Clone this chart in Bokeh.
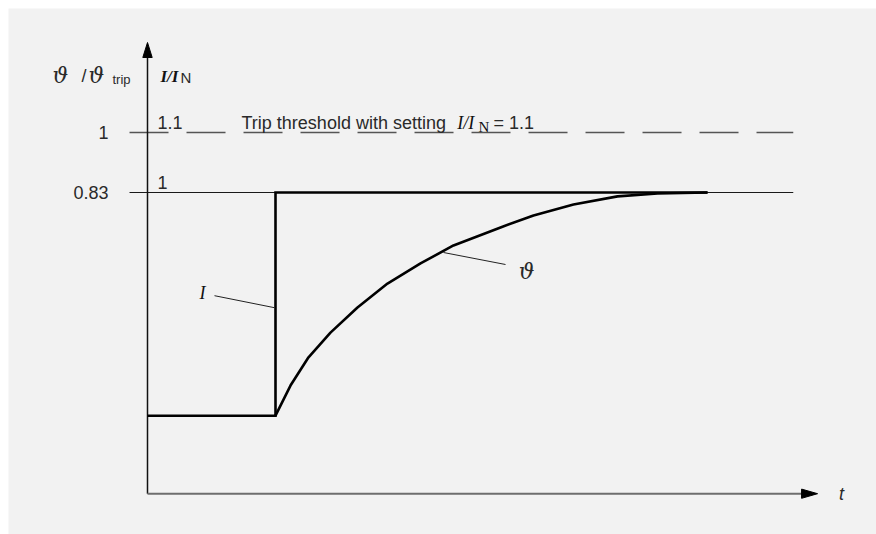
from bokeh.plotting import figure
from bokeh.models import Range1d
from bokeh.embed import file_html
from bokeh.resources import INLINE
from bokeh.core.properties import value

# ---------------- data ----------------
time_I = [0.0, 2.0, 2.0, 8.75]
current_I = [0.628, 0.628, 1.0, 1.0]            # I / I_N

time_theta = [2.0, 2.234, 2.516, 2.859, 3.281, 3.75, 4.266, 4.781,
              5.516, 6.031, 6.656, 7.344, 7.969, 8.75]
theta = [0.198, 0.283, 0.363, 0.433, 0.504, 0.572, 0.629, 0.680,
         0.731, 0.765, 0.796, 0.819, 0.827, 0.83]  # theta / theta_trip

theta_ticks = [0.83, 1.0]
theta_tick_labels = ["0.83", "1"]
current_ticks = [1.0, 1.1]
current_tick_labels = ["1", "1.1"]
trip_setting = 1.1
threshold_theta = 1.0

# ---------------- layout constants ----------------
M = 8                      # white margin round the grey panel
W, H = 868, 526            # grey panel (plot frame)
PX_T = 64.0                # px per time unit
PX_I = 600.0               # px per I/I_N unit
ORIGIN_X = 139             # px from panel left to t = 0
TOP_I = 1.1 + 124 / PX_I   # I value at the panel top
x0 = -ORIGIN_X / PX_T
x1 = x0 + W / PX_T
y1 = TOP_I
y0 = y1 - H / PX_I
# theta scale: 0.83 <-> I=1, 1 <-> I=1.1
k = (threshold_theta - theta_ticks[0]) / (trip_setting - current_ticks[0])
th0 = theta_ticks[0] + (y0 - 1.0) * k
th1 = theta_ticks[0] + (y1 - 1.0) * k

BG = "#f2f2f2"
TXT = "#2a2a2a"
SANS = value("Liberation Sans")
SERIF = value("Liberation Serif")
THETA_FONT = value("DejaVu Serif")
FS = "18px"

p = figure(width=W + M, height=H + M, x_axis_type=None, y_axis_type=None,
           x_range=Range1d(x0, x1), y_range=Range1d(y0, y1),
           output_backend="svg", toolbar_location=None,
           background_fill_color=BG, border_fill_color="white",
           outline_line_color=None, min_border=0,
           min_border_left=M, min_border_top=M)
p.extra_y_ranges = {"theta": Range1d(th0, th1)}

ax_base = 0.498
t_line0, t_line1 = -0.281, 10.09

# reference lines
p.line([t_line0, t_line1], [threshold_theta] * 2, y_range_name="theta",
       line_color="#555555", line_width=1.3, line_dash="39 18")
p.line([t_line0, t_line1], [current_ticks[0]] * 2,
       line_color="#1a1a1a", line_width=1.1)

# axes (drawn as lines with arrow heads)
y_tip = 1.25
x_tip = 10.47
p.line([0, 0], [ax_base, y_tip - 15 / PX_I], line_color="#111111", line_width=1.5)
p.patch([0 - 4.7 / PX_T, 0, 0 + 4.7 / PX_T], [y_tip - 15 / PX_I, y_tip, y_tip - 15 / PX_I],
        color="#000000")
p.line([0, x_tip - 15 / PX_T], [ax_base, ax_base], line_color="#6e6e6e", line_width=2)
p.patch([x_tip - 16 / PX_T, x_tip, x_tip - 16 / PX_T],
        [ax_base + 4.6 / PX_I, ax_base, ax_base - 4.6 / PX_I], color="#000000")

# curves
p.line(time_theta, theta, y_range_name="theta", line_color="#000000",
       line_width=2.6, line_join="round")
p.line(time_I, current_I, line_color="#000000", line_width=2.6, line_join="miter")

# leaders
p.line([1.047, 1.984], [0.828, 0.808], line_color="#222222", line_width=1)
p.line([4.625, 5.594], [0.90, 0.88], line_color="#222222", line_width=1)

# tick labels
p.text(x=[-0.609] * 2, y=theta_ticks, text=theta_tick_labels, y_range_name="theta",
       text_align="right", text_baseline="middle", text_font=SANS,
       text_font_size=FS, text_color=TXT)
p.text(x=[0.156] * 2, y=current_ticks, text=current_tick_labels, y_offset=-10,
       text_align="left", text_baseline="alphabetic", text_font=SANS,
       text_font_size=FS, text_color=TXT)

# threshold text
p.text(x=[1.469], y=[trip_setting], text=["Trip threshold with setting"], y_offset=-10,
       text_baseline="alphabetic", text_font=SANS, text_font_size=FS, text_color=TXT)
p.text(x=[4.839], y=[trip_setting], text=["I/I"], y_offset=-10,
       text_baseline="alphabetic", text_font=SERIF, text_font_style="italic",
       text_font_size="18px", text_color="#111111")
p.text(x=[5.172], y=[trip_setting], text=["N"], y_offset=-6,
       text_baseline="alphabetic", text_font=SERIF,
       text_font_size="15px", text_color="#111111")
p.text(x=[5.406], y=[trip_setting], text=["= 1.1"], y_offset=-10,
       text_baseline="alphabetic", text_font=SANS, text_font_size=FS, text_color=TXT)

# axis titles
p.text(x=[-1.484, -0.922], y=[1.195, 1.195], text=["\u03d1", "\u03d1"],
       text_baseline="alphabetic", text_font=THETA_FONT, text_font_style="italic",
       text_font_size="22px", text_color=TXT)
p.text(x=[-1.031], y=[1.195], text=["/"], text_baseline="alphabetic",
       text_font=SANS, text_font_size=FS, text_color=TXT)
p.text(x=[-0.547], y=[1.188], text=["trip"], text_baseline="alphabetic",
       text_font=SANS, text_font_size="13px", text_color=TXT)
p.text(x=[0.203], y=[1.194], text=["I/I"], text_baseline="alphabetic",
       text_font=SERIF, text_font_style="bold italic", text_font_size="17px",
       text_color="#111111")
p.text(x=[0.516], y=[1.192], text=["N"], text_baseline="alphabetic",
       text_font=SANS, text_font_size="15px", text_color=TXT)
p.text(x=[10.844], y=[ax_base], text=["t"], text_align="center", text_baseline="middle",
       text_font=SANS, text_font_style="italic", text_font_size=FS, text_color=TXT)

# curve labels
p.text(x=[0.859], y=[0.832], text=["I"], text_align="center", text_baseline="middle",
       text_font=SERIF, text_font_style="italic", text_font_size="18px", text_color="#111111")
p.text(x=[5.922], y=[0.868], text=["\u03d1"], text_align="center", text_baseline="middle",
       text_font=THETA_FONT, text_font_style="italic", text_font_size="22px", text_color=TXT)

open("out.html", "w").write(file_html(p, INLINE))
